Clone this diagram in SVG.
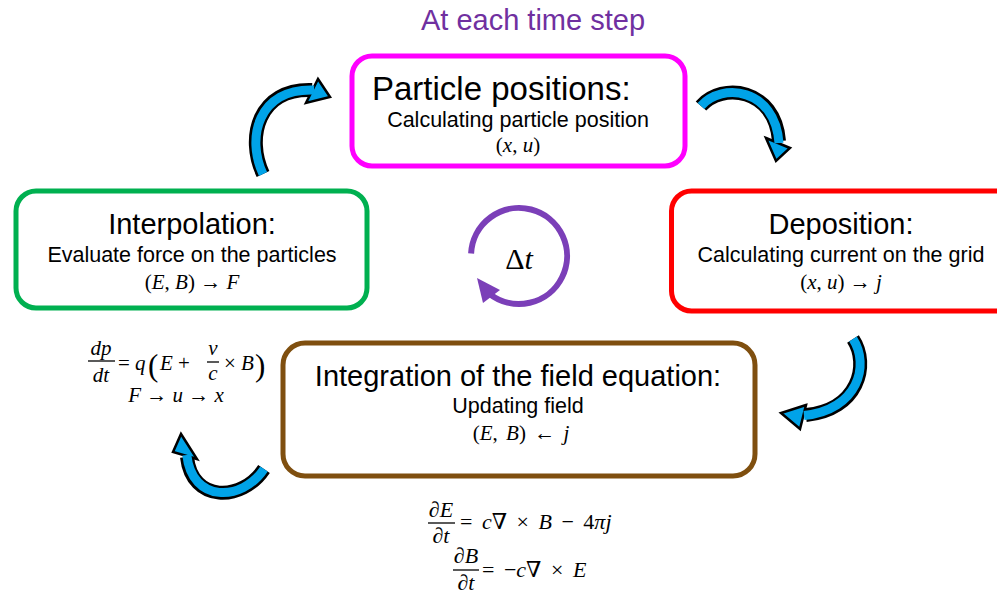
<svg xmlns="http://www.w3.org/2000/svg" width="997" height="595" viewBox="0 0 997 595">
<style>
.box{fill:#fff;stroke-width:5}
.t1{font-family:"Liberation Sans",Arial,sans-serif;font-size:29px;fill:#000;text-anchor:middle}
.t2{font-family:"Liberation Sans",Arial,sans-serif;font-size:21.5px;fill:#000;text-anchor:middle}
.m{font-family:"Liberation Serif","DejaVu Serif",serif;font-size:21px;fill:#000}
.m22{font-size:22px}
.mc{text-anchor:middle}
.i{font-style:italic}
.par{font-size:31px}
.ab{fill:none;stroke:#000;stroke-width:14}
.af{fill:none;stroke:#00A3E8;stroke-width:9}
.ah{fill:#00A3E8;stroke:#000;stroke-width:2.5;stroke-linejoin:miter}
.bar{stroke:#000;stroke-width:1.3}
</style>
<rect width="997" height="595" fill="#fff"/>
<text x="533" y="30" font-family="'Liberation Sans',Arial,sans-serif" font-size="29" fill="#7030A0" text-anchor="middle">At each time step</text>

<g id="connectors">
  <g id="arrow-top-left">
    <path class="ab" d="M263,174 C246,138 258,88 312,90"/>
    <polygon class="ah" points="318,79 330,97 306,103"/>
    <path class="af" d="M263,174 C246,138 258,88 314,90"/>
  </g>
  <g id="arrow-top-right">
    <path class="ab" d="M701,106 C722,82 775,88 779,141"/>
    <polygon class="ah" points="766,138 790,148 776,161"/>
    <path class="af" d="M701,106 C722,82 775,88 779,143"/>
  </g>
  <g id="arrow-right">
    <path class="ab" d="M853,339 C870,365 858,410 806,415"/>
    <polygon class="ah" points="806,405 781,413 800,429"/>
    <path class="af" d="M853,339 C870,365 858,410 804,415.5"/>
  </g>
  <g id="arrow-bottom-left">
    <path class="ab" d="M264,469 C242,502 192,503 187,457"/>
    <polygon class="ah" points="173,452 181,434 197,459"/>
    <path class="af" d="M264,469 C242,502 192,503 186.8,455"/>
  </g>
</g>

<g id="cycle">
  <path d="M471.1,253.5 A48,48 0 1 1 489.5,293.8" fill="none" stroke="#7B3FB8" stroke-width="6"/>
  <polygon points="477,278 500,290 483,303" fill="#7B3FB8"/>
  <text x="519" y="269" class="m mc" style="font-size:30px">Δ<tspan class="i">t</tspan></text>
</g>

<g id="particle-positions">
  <rect class="box" x="352" y="56" width="333" height="110" rx="20" stroke="#FF00FF"/>
  <text x="372" y="100" font-family="'Liberation Sans',Arial,sans-serif" font-size="33" fill="#000">Particle positions:</text>
  <text class="t2" x="518" y="127">Calculating particle position</text>
  <text class="m mc" x="518" y="152">(<tspan class="i">x</tspan>, <tspan class="i">u</tspan>)</text>
</g>

<g id="interpolation">
  <rect class="box" x="16" y="191" width="351" height="117" rx="20" stroke="#00B050"/>
  <text class="t1" x="192" y="234">Interpolation:</text>
  <text class="t2" x="192" y="262">Evaluate force on the particles</text>
  <text class="m mc" x="192" y="289">(<tspan class="i">E</tspan>, <tspan class="i">B</tspan>) → <tspan class="i">F</tspan></text>
</g>

<g id="deposition">
  <rect class="box" x="671.5" y="191" width="345" height="120" rx="20" stroke="#FF0000"/>
  <text class="t1" x="841" y="234">Deposition:</text>
  <text class="t2" x="841" y="262">Calculating current on the grid</text>
  <text class="m mc" x="841" y="289">(<tspan class="i">x</tspan>, <tspan class="i">u</tspan>) → <tspan class="i">j</tspan></text>
</g>

<g id="integration">
  <rect class="box" x="283" y="343" width="472" height="133" rx="22" stroke="#7F4F0F"/>
  <text class="t1" x="518" y="386">Integration of the field equation:</text>
  <text class="t2" x="518" y="413">Updating field</text>
  <text class="m mc" x="521" y="440" word-spacing="3">(<tspan class="i">E</tspan>, <tspan class="i">B</tspan>) ← <tspan class="i">j</tspan></text>
</g>

<g id="lorentz-eq">
  <text class="m mc i" x="101" y="355">dp</text>
  <line class="bar" x1="88" y1="361" x2="115" y2="361"/>
  <text class="m mc i" x="101" y="382">dt</text>
  <text class="m" x="118" y="370">= <tspan class="i">q</tspan></text>
  <text class="m par" x="148" y="376">(</text>
  <text class="m" x="160" y="370"><tspan class="i">E</tspan> +</text>
  <text class="m mc i" x="213" y="355">v</text>
  <line class="bar" x1="207" y1="362" x2="219" y2="362"/>
  <text class="m mc i" x="213" y="380">c</text>
  <text class="m" x="224" y="370">× <tspan class="i">B</tspan></text>
  <text class="m par" x="255" y="376">)</text>
  <text class="m mc" x="176" y="402"><tspan class="i">F</tspan> → <tspan class="i">u</tspan> → <tspan class="i">x</tspan></text>
</g>

<g id="maxwell-eq">
  <text class="m m22 mc i" x="441" y="517">∂E</text>
  <line class="bar" x1="428" y1="523" x2="455" y2="523"/>
  <text class="m m22 mc i" x="441" y="543">∂t</text>
  <text class="m m22" x="460" y="529" word-spacing="4">= <tspan class="i">c∇</tspan> × <tspan class="i">B</tspan>  − 4<tspan class="i">πj</tspan></text>
  <text class="m m22 mc i" x="466" y="563">∂B</text>
  <line class="bar" x1="453" y1="570" x2="479" y2="570"/>
  <text class="m m22 mc i" x="466" y="590">∂t</text>
  <text class="m m22" x="482" y="577" word-spacing="4">= −<tspan class="i">c∇</tspan> × <tspan class="i">E</tspan></text>
</g>
</svg>
